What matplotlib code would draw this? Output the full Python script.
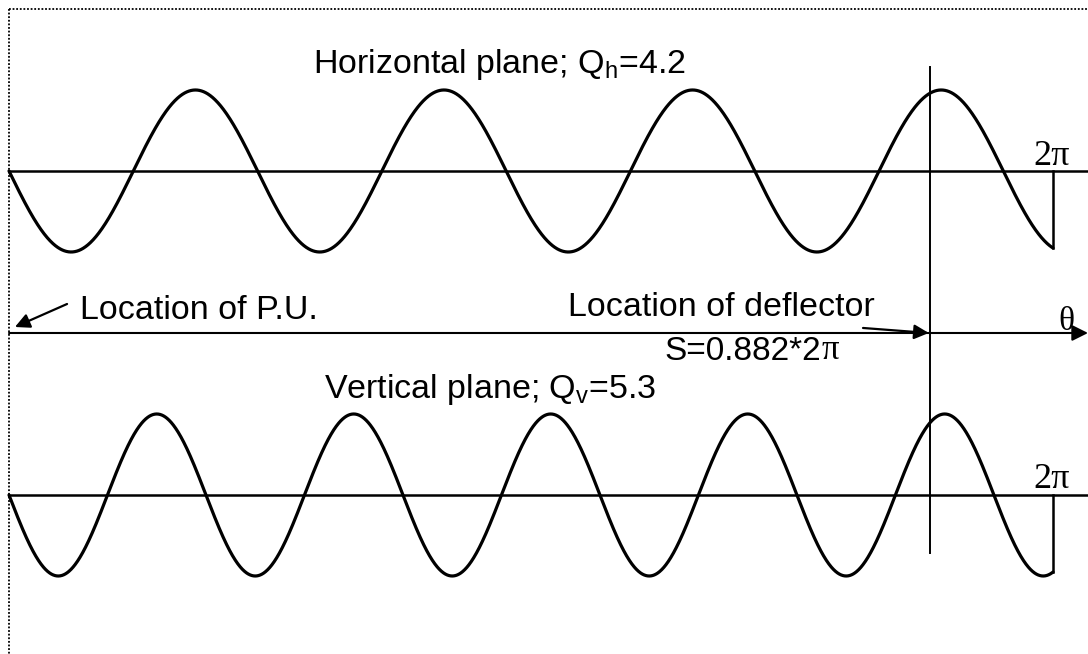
import numpy as np
import matplotlib.pyplot as plt

plt.rcParams['mathtext.fontset'] = 'custom'
plt.rcParams['mathtext.rm'] = 'Liberation Sans'
plt.rcParams['mathtext.it'] = 'Liberation Sans:italic'

# betatron tunes and deflector position (fraction of one turn)
Q_h = 4.2
Q_v = 5.3
S = 0.882

# baseline offsets of the two planes, amplitude = 1
base_h = 2.0
base_v = -2.0

theta = np.linspace(0.0, 1.0, 3000)   # one turn, in units of 2*pi
x_h = base_h - np.sin(2 * np.pi * Q_h * theta)
x_v = base_v - np.sin(2 * np.pi * Q_v * theta)

fig = plt.figure(figsize=(10.88, 6.54), dpi=100)
ax = fig.add_axes([0, 0, 1, 1])
xmin, xmax = -0.00862, 1.0335
ax.set_xlim(xmin, xmax)
ax.set_ylim(-3.963, 4.111)
ax.axis('off')

# dotted frame (top and left)
ax.plot([0, xmax], [3.994, 3.994], color='k', lw=1.3, ls=(0, (1, 1)), clip_on=False)
ax.plot([0, 0], [3.994, -3.963], color='k', lw=1.3, ls=(0, (1, 1)), clip_on=False)

# horizontal plane
ax.plot([0, xmax], [base_h, base_h], color='k', lw=1.8, clip_on=False)
ax.plot(theta, x_h, color='k', lw=2.3, solid_capstyle='round')
ax.plot([1, 1], [x_h[-1], base_h], color='k', lw=1.8)

# vertical plane
ax.plot([0, xmax], [base_v, base_v], color='k', lw=1.8, clip_on=False)
ax.plot(theta, x_v, color='k', lw=2.3, solid_capstyle='round')
ax.plot([1, 1], [x_v[-1], base_v], color='k', lw=1.8)

# theta axis
ax.annotate('', xy=(xmax, 0), xytext=(0, 0),
            arrowprops=dict(arrowstyle='-|>', color='k', lw=1.5,
                            mutation_scale=24, shrinkA=0, shrinkB=0))

# deflector line
ax.plot([S, S], [3.28, -2.72], color='k', lw=1.4)

# pointers
ax.annotate('', xy=(0.0057, 0.074), xytext=(0.0556, 0.358),
            arrowprops=dict(arrowstyle='-|>', color='k', lw=1.6,
                            mutation_scale=22, shrinkA=0, shrinkB=0))
ax.annotate('', xy=(S - 0.001, 0.0), xytext=(0.818, 0.062),
            arrowprops=dict(arrowstyle='-|>', color='k', lw=1.6,
                            mutation_scale=22, shrinkA=0, shrinkB=0))

sans = dict(family='Liberation Sans', fontsize=24.5, ha='left', va='baseline')
serif = dict(family='Liberation Serif', fontsize=26, ha='left', va='baseline')

ax.text(0.291, 3.21, r'Horizontal plane; Q$_\mathrm{h}$=%.1f' % Q_h, **sans)
ax.text(0.302, -0.802, r'Vertical plane; Q$_\mathrm{v}$=%.1f' % Q_v, **sans)
ax.text(0.068, 0.173, 'Location of P.U.', **sans)
ax.text(0.5355, 0.21, 'Location of deflector', **sans)
s_txt = ax.text(0.628, -0.333, 'S=%.3f*2' % S,
                family='Liberation Sans', fontsize=24, ha='left', va='baseline')
ax.annotate('π', xy=(1, 0), xycoords=s_txt, ha='left', va='bottom',
            family='Liberation Serif', fontsize=25)

ax.text(0.981, base_h + 0.074, '2π', **serif)
ax.text(0.981, base_v + 0.086, '2π', **serif)
ax.text(1.005, 0.037, 'θ', family='Liberation Serif', fontsize=24,
        ha='left', va='baseline')

fig.savefig('out.png', dpi=100)
